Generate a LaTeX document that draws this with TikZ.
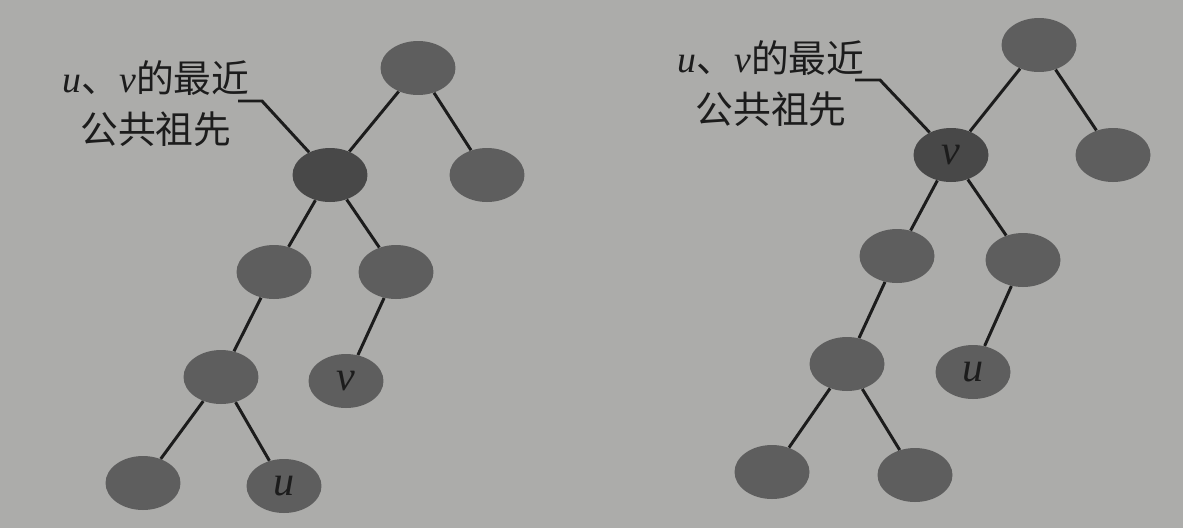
\documentclass[tikz,border=0pt]{standalone}
\usepackage{fontspec}
\setmainfont{Liberation Serif}
\newfontfamily\cjk{Noto Sans CJK SC}
\usetikzlibrary{shapes.geometric}
\definecolor{paper}{RGB}{172,172,170}
\definecolor{nodegray}{RGB}{94,94,94}
\definecolor{lcagray}{RGB}{72,72,72}
\definecolor{ink}{RGB}{28,28,28}
\newcommand{\var}[1]{{\normalfont\itshape #1}}
\begin{document}
\begin{tikzpicture}[x=0.02cm,y=-0.02cm,
  vert/.style={ellipse,fill=nodegray,minimum width=1.5cm,minimum height=1.08cm,inner sep=0pt,
    font=\fontsize{24}{26}\selectfont\itshape,text=ink},
  lca/.style={vert,fill=lcagray},
  edge/.style={draw=ink,line width=1.7pt},
  lbl/.style={align=center,text=ink,font=\fontsize{21.5}{29}\selectfont\cjk}]
\fill[paper] (0,0) rectangle (1183,528); %page
% left tree
\node[vert] (r1) at (418,68) {};
\node[lca] (a1) at (330,175) {};
\node[vert] (c1) at (487,175) {};
\node[vert] (d1) at (274,272) {};
\node[vert] (e1) at (396,272) {};
\node[vert] (f1) at (221,377) {};
\node[vert] (v1) at (346,381) {v};
\node[vert] (g1) at (143,483) {};
\node[vert] (u1) at (284,486) {u};
\draw[edge] (r1)--(a1) (r1)--(c1) (a1)--(d1) (a1)--(e1) (d1)--(f1) (e1)--(v1) (f1)--(g1) (f1)--(u1);
\node[lbl] (lab1) at (156,104) {\var{u}、\var{v}的最近\\公共祖先};
\coordinate (p1) at (238,101);
\coordinate (q1) at (262,101);
\draw[edge] (p1)--(q1)--(a1);
% right tree
\node[vert] (r2) at (1039,45) {};
\node[lca] (v2) at (951,155) {v};
\node[vert] (c2) at (1113,155) {};
\node[vert] (d2) at (897,256) {};
\node[vert] (e2) at (1023,260) {};
\node[vert] (f2) at (847,364) {};
\node[vert] (u2) at (973,372) {u};
\node[vert] (g2) at (772,472) {};
\node[vert] (h2) at (915,475) {};
\draw[edge] (r2)--(v2) (r2)--(c2) (v2)--(d2) (v2)--(e2) (d2)--(f2) (e2)--(u2) (f2)--(g2) (f2)--(h2);
\node[lbl] (lab2) at (771,84) {\var{u}、\var{v}的最近\\公共祖先};
\coordinate (p2) at (855,80);
\coordinate (q2) at (880,80);
\draw[edge] (p2)--(q2)--(v2);
\end{tikzpicture}
\end{document}
